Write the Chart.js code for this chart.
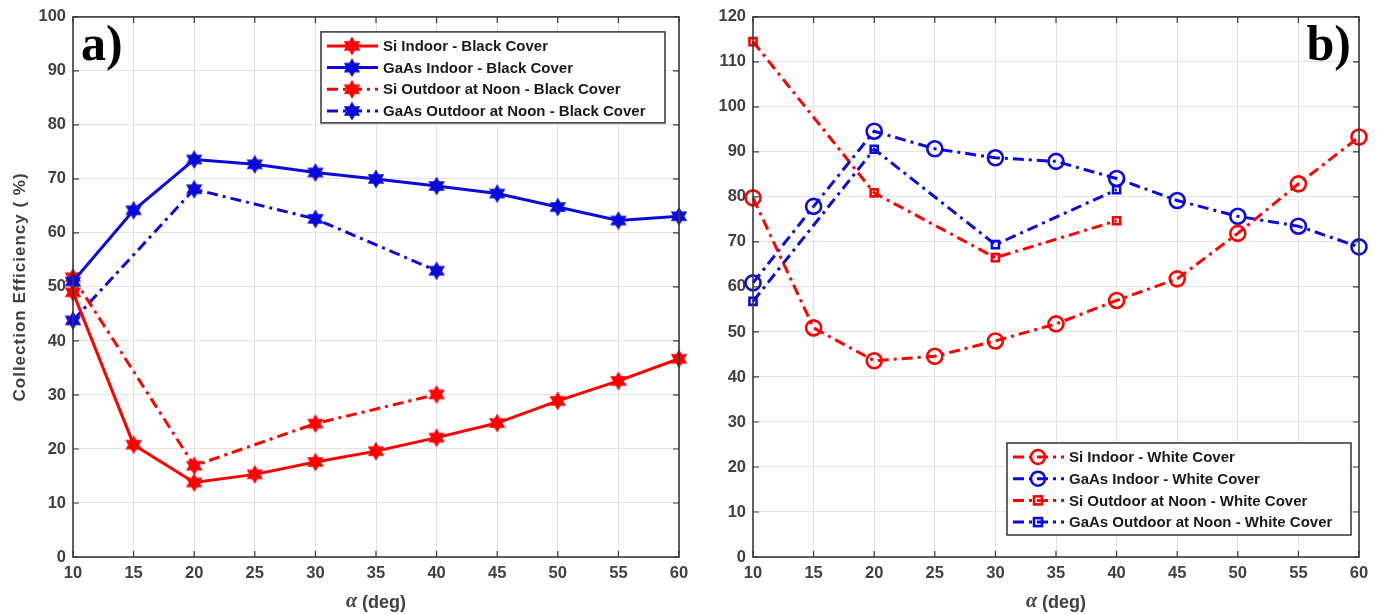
<!DOCTYPE html>
<html>
<head>
<meta charset="utf-8">
<script src="https://cdn.jsdelivr.net/npm/chart.js@4.4.0/dist/chart.umd.min.js"></script>
<style>
  body { margin: 0; background: #fff; width: 1382px; height: 614px; overflow: hidden; position: relative; }
  #boxA { position: absolute; left: 0; top: 0; }
  #boxB { position: absolute; left: 690px; top: 0; }
</style>
</head>
<body>
<div id="boxA"><canvas id="chartA" width="700" height="614"></canvas></div>
<div id="boxB"><canvas id="chartB" width="692" height="614"></canvas></div>
<script>
// angle values (deg)
const alphaAll = [10, 15, 20, 25, 30, 35, 40, 45, 50, 55, 60];
const alphaOut = [10, 20, 30, 40];

// a) black cover
const siIndoorBlack = [49, 20.8, 13.8, 15.3, 17.6, 19.6, 22.1, 24.8, 28.9, 32.6, 36.7];
const gaasIndoorBlack = [51, 64.2, 73.6, 72.7, 71.2, 70, 68.7, 67.3, 64.8, 62.3, 63.1];
const siOutdoorBlack = [51.8, 16.9, 24.7, 30.1];
const gaasOutdoorBlack = [43.8, 68.1, 62.6, 53];

// b) white cover
const siIndoorWhite = [79.8, 50.9, 43.6, 44.6, 48, 51.8, 57, 61.8, 71.9, 82.9, 93.3];
const gaasIndoorWhite = [60.9, 77.9, 94.6, 90.7, 88.7, 87.9, 84.1, 79.2, 75.7, 73.5, 68.9];
const siOutdoorWhite = [114.5, 80.9, 66.5, 74.7];
const gaasOutdoorWhite = [56.8, 90.6, 69.4, 81.6];

const yTicksA = { min: 0, max: 100, step: 10 };
const yTicksB = { min: 0, max: 120, step: 10 };

const RED = "#ff0000";
const BLUE = "#0a0adc";
const DASHDOT = [11, 5, 3, 5];
const SANS = "'Liberation Sans', Arial, sans-serif";

function hexagram(color, r) {
    let c = document.createElement("canvas");
    let s = Math.ceil(2 * r + 4);
    c.width = s;
    c.height = s;
    let g = c.getContext("2d");
    g.translate(s / 2, s / 2);
    g.beginPath();
    for (let i = 0; i < 12; i++) {
        let rad = i % 2 === 0 ? r : r / Math.sqrt(3);
        let a = -Math.PI / 2 + i * Math.PI / 6;
        if (i === 0) g.moveTo(rad * Math.cos(a), rad * Math.sin(a));
        else g.lineTo(rad * Math.cos(a), rad * Math.sin(a));
    }
    g.closePath();
    g.fillStyle = color;
    g.fill();
    g.lineWidth = 1.5;
    g.strokeStyle = color;
    g.stroke();
    return c;
}

const starRed = hexagram(RED, 8);
const starBlue = hexagram(BLUE, 8);

function toXY(xs, ys) {
    return xs.map((x, i) => ({ x: x, y: ys[i] }));
}

function series(label, xs, ys, color, dash, marker) {
    let ds = {
        label: label,
        data: toXY(xs, ys),
        borderColor: color,
        backgroundColor: "rgba(0,0,0,0)",
        borderWidth: 3,
        borderDash: dash,
        pointBorderColor: color,
        pointBackgroundColor: "rgba(0,0,0,0)",
        clip: false,
        tension: 0
    };
    if (marker === "star") {
        ds.pointStyle = color === RED ? starRed : starBlue;
        ds.pointRadius = 8;
    } else if (marker === "circle") {
        ds.pointStyle = "circle";
        ds.pointRadius = 7.5;
        ds.pointBorderWidth = 2.6;
    } else {
        ds.pointStyle = "rect";
        ds.pointRadius = 5;
        ds.pointBorderWidth = 2.6;
    }
    ds.markerKind = marker;
    return ds;
}

// draws box, inward ticks, panel letter, axis titles and the legend
const matlabLook = {
    id: "matlabLook",
    afterDraw(chart, args, opts) {
        let ctx = chart.ctx;
        let area = chart.chartArea;
        let xs = chart.scales.x;
        let ys = chart.scales.y;
        ctx.save();

        // inward ticks
        ctx.strokeStyle = "#3a3a3a";
        ctx.lineWidth = 1.2;
        ctx.beginPath();
        xs.ticks.forEach(t => {
            let px = xs.getPixelForValue(t.value);
            ctx.moveTo(px, area.bottom);
            ctx.lineTo(px, area.bottom - 6);
            ctx.moveTo(px, area.top);
            ctx.lineTo(px, area.top + 6);
        });
        ys.ticks.forEach(t => {
            let py = ys.getPixelForValue(t.value);
            ctx.moveTo(area.left, py);
            ctx.lineTo(area.left + 6, py);
            ctx.moveTo(area.right, py);
            ctx.lineTo(area.right - 6, py);
        });
        ctx.stroke();

        // axes box
        ctx.strokeStyle = "#3a3a3a";
        ctx.lineWidth = 1.6;
        ctx.strokeRect(area.left, area.top, area.right - area.left, area.bottom - area.top);

        // panel letter
        ctx.fillStyle = "#000";
        ctx.font = "bold 50px 'Liberation Serif', 'Times New Roman', serif";
        ctx.textBaseline = "middle";
        if (opts.letterSide === "left") {
            ctx.textAlign = "left";
            ctx.fillText(opts.letter, area.left + 8, area.top + 30);
        } else {
            ctx.textAlign = "right";
            ctx.fillText(opts.letter, area.right - 8, area.top + 30);
        }

        // x title
        let cx = (area.left + area.right) / 2;
        ctx.fillStyle = "#404040";
        ctx.textBaseline = "middle";
        ctx.font = "italic bold 20px 'Liberation Serif', serif";
        let alphaW = ctx.measureText("\u03b1").width;
        ctx.font = "bold 18px " + SANS;
        let restW = ctx.measureText(" (deg)").width;
        let startX = cx - (alphaW + restW) / 2;
        ctx.textAlign = "left";
        ctx.font = "italic bold 20px 'Liberation Serif', serif";
        ctx.fillText("\u03b1", startX, 602);
        ctx.font = "bold 18px " + SANS;
        ctx.fillText(" (deg)", startX + alphaW, 603);

        // y title
        if (opts.yTitle) {
            ctx.save();
            ctx.translate(20, (area.top + area.bottom) / 2);
            ctx.rotate(-Math.PI / 2);
            ctx.textAlign = "center";
            ctx.font = "bold 17px " + SANS;
            ctx.letterSpacing = "1px";
            ctx.fillText(opts.yTitle, 0, 0);
            ctx.restore();
        }

        // legend
        let L = opts.legend;
        let lx = area.right - L.right - L.width;
        let ly = L.top !== undefined ? area.top + L.top : area.bottom - L.bottom - L.height;
        ctx.fillStyle = "#fff";
        ctx.fillRect(lx, ly, L.width, L.height);
        ctx.strokeStyle = "#333";
        ctx.lineWidth = 1.5;
        ctx.strokeRect(lx, ly, L.width, L.height);
        chart.data.datasets.forEach((ds, i) => {
            let ry = ly + 14 + i * 21.7;
            ctx.save();
            ctx.strokeStyle = ds.borderColor;
            ctx.lineWidth = 3;
            ctx.setLineDash(ds.borderDash || []);
            ctx.beginPath();
            ctx.moveTo(lx + 6, ry);
            ctx.lineTo(lx + 57, ry);
            ctx.stroke();
            ctx.setLineDash([]);
            let mx = lx + 31;
            if (ds.markerKind === "star") {
                let img = ds.pointStyle;
                ctx.drawImage(img, mx - img.width / 2, ry - img.height / 2);
            } else if (ds.markerKind === "circle") {
                ctx.lineWidth = 2.6;
                ctx.beginPath();
                ctx.arc(mx, ry, 7, 0, Math.PI * 2);
                ctx.stroke();
            } else {
                ctx.lineWidth = 2.6;
                ctx.strokeRect(mx - 4, ry - 4, 8, 8);
            }
            ctx.restore();
            ctx.fillStyle = "#1a1a1a";
            ctx.font = "bold 15px " + SANS;
            ctx.textAlign = "left";
            ctx.textBaseline = "middle";
            ctx.fillText(ds.label, lx + 62, ry + 1);
        });
        ctx.restore();
    }
};

function makeOptions(yt, yWidth, padRight, letter, side, yTitle, legend) {
    return {
        responsive: false,
        animation: false,
        layout: { padding: { left: 0, right: padRight, top: 16, bottom: 0 }, autoPadding: false },
        plugins: {
            legend: { display: false },
            tooltip: { enabled: false },
            matlabLook: { letter: letter, letterSide: side, yTitle: yTitle, legend: legend }
        },
        scales: {
            x: {
                type: "linear",
                min: 10,
                max: 60,
                afterFit(scale) { scale.height = 57; },
                ticks: {
                    stepSize: 5,
                    padding: 7,
                    color: "#404040",
                    font: { family: SANS, size: 16.5, weight: "bold" }
                },
                grid: { color: "#e3e3e3", lineWidth: 1, drawTicks: false },
                border: { display: false }
            },
            y: {
                min: yt.min,
                max: yt.max,
                afterFit(scale) { scale.width = yWidth; },
                ticks: {
                    stepSize: yt.step,
                    padding: 7,
                    color: "#404040",
                    font: { family: SANS, size: 16.5, weight: "bold" }
                },
                grid: { color: "#e3e3e3", lineWidth: 1, drawTicks: false },
                border: { display: false }
            }
        }
    };
}

new Chart(document.getElementById("chartA"), {
    type: "line",
    data: {
        datasets: [
            series("Si Indoor - Black Cover", alphaAll, siIndoorBlack, RED, [], "star"),
            series("GaAs Indoor - Black Cover", alphaAll, gaasIndoorBlack, BLUE, [], "star"),
            series("Si Outdoor at Noon - Black Cover", alphaOut, siOutdoorBlack, RED, DASHDOT, "star"),
            series("GaAs Outdoor at Noon - Black Cover", alphaOut, gaasOutdoorBlack, BLUE, DASHDOT, "star")
        ]
    },
    options: makeOptions(yTicksA, 73, 21, "a)", "left", "Collection Efficiency ( %)",
        { right: 14, top: 15, width: 344, height: 91 }),
    plugins: [matlabLook]
});

new Chart(document.getElementById("chartB"), {
    type: "line",
    data: {
        datasets: [
            series("Si Indoor - White Cover", alphaAll, siIndoorWhite, RED, DASHDOT, "circle"),
            series("GaAs Indoor - White Cover", alphaAll, gaasIndoorWhite, BLUE, DASHDOT, "circle"),
            series("Si Outdoor at Noon - White Cover", alphaOut, siOutdoorWhite, RED, DASHDOT, "square"),
            series("GaAs Outdoor at Noon - White Cover", alphaOut, gaasOutdoorWhite, BLUE, DASHDOT, "square")
        ]
    },
    options: makeOptions(yTicksB, 63, 23, "b)", "right", null,
        { right: 8, bottom: 22, width: 344, height: 92 }),
    plugins: [matlabLook]
});
</script>
</body>
</html>
